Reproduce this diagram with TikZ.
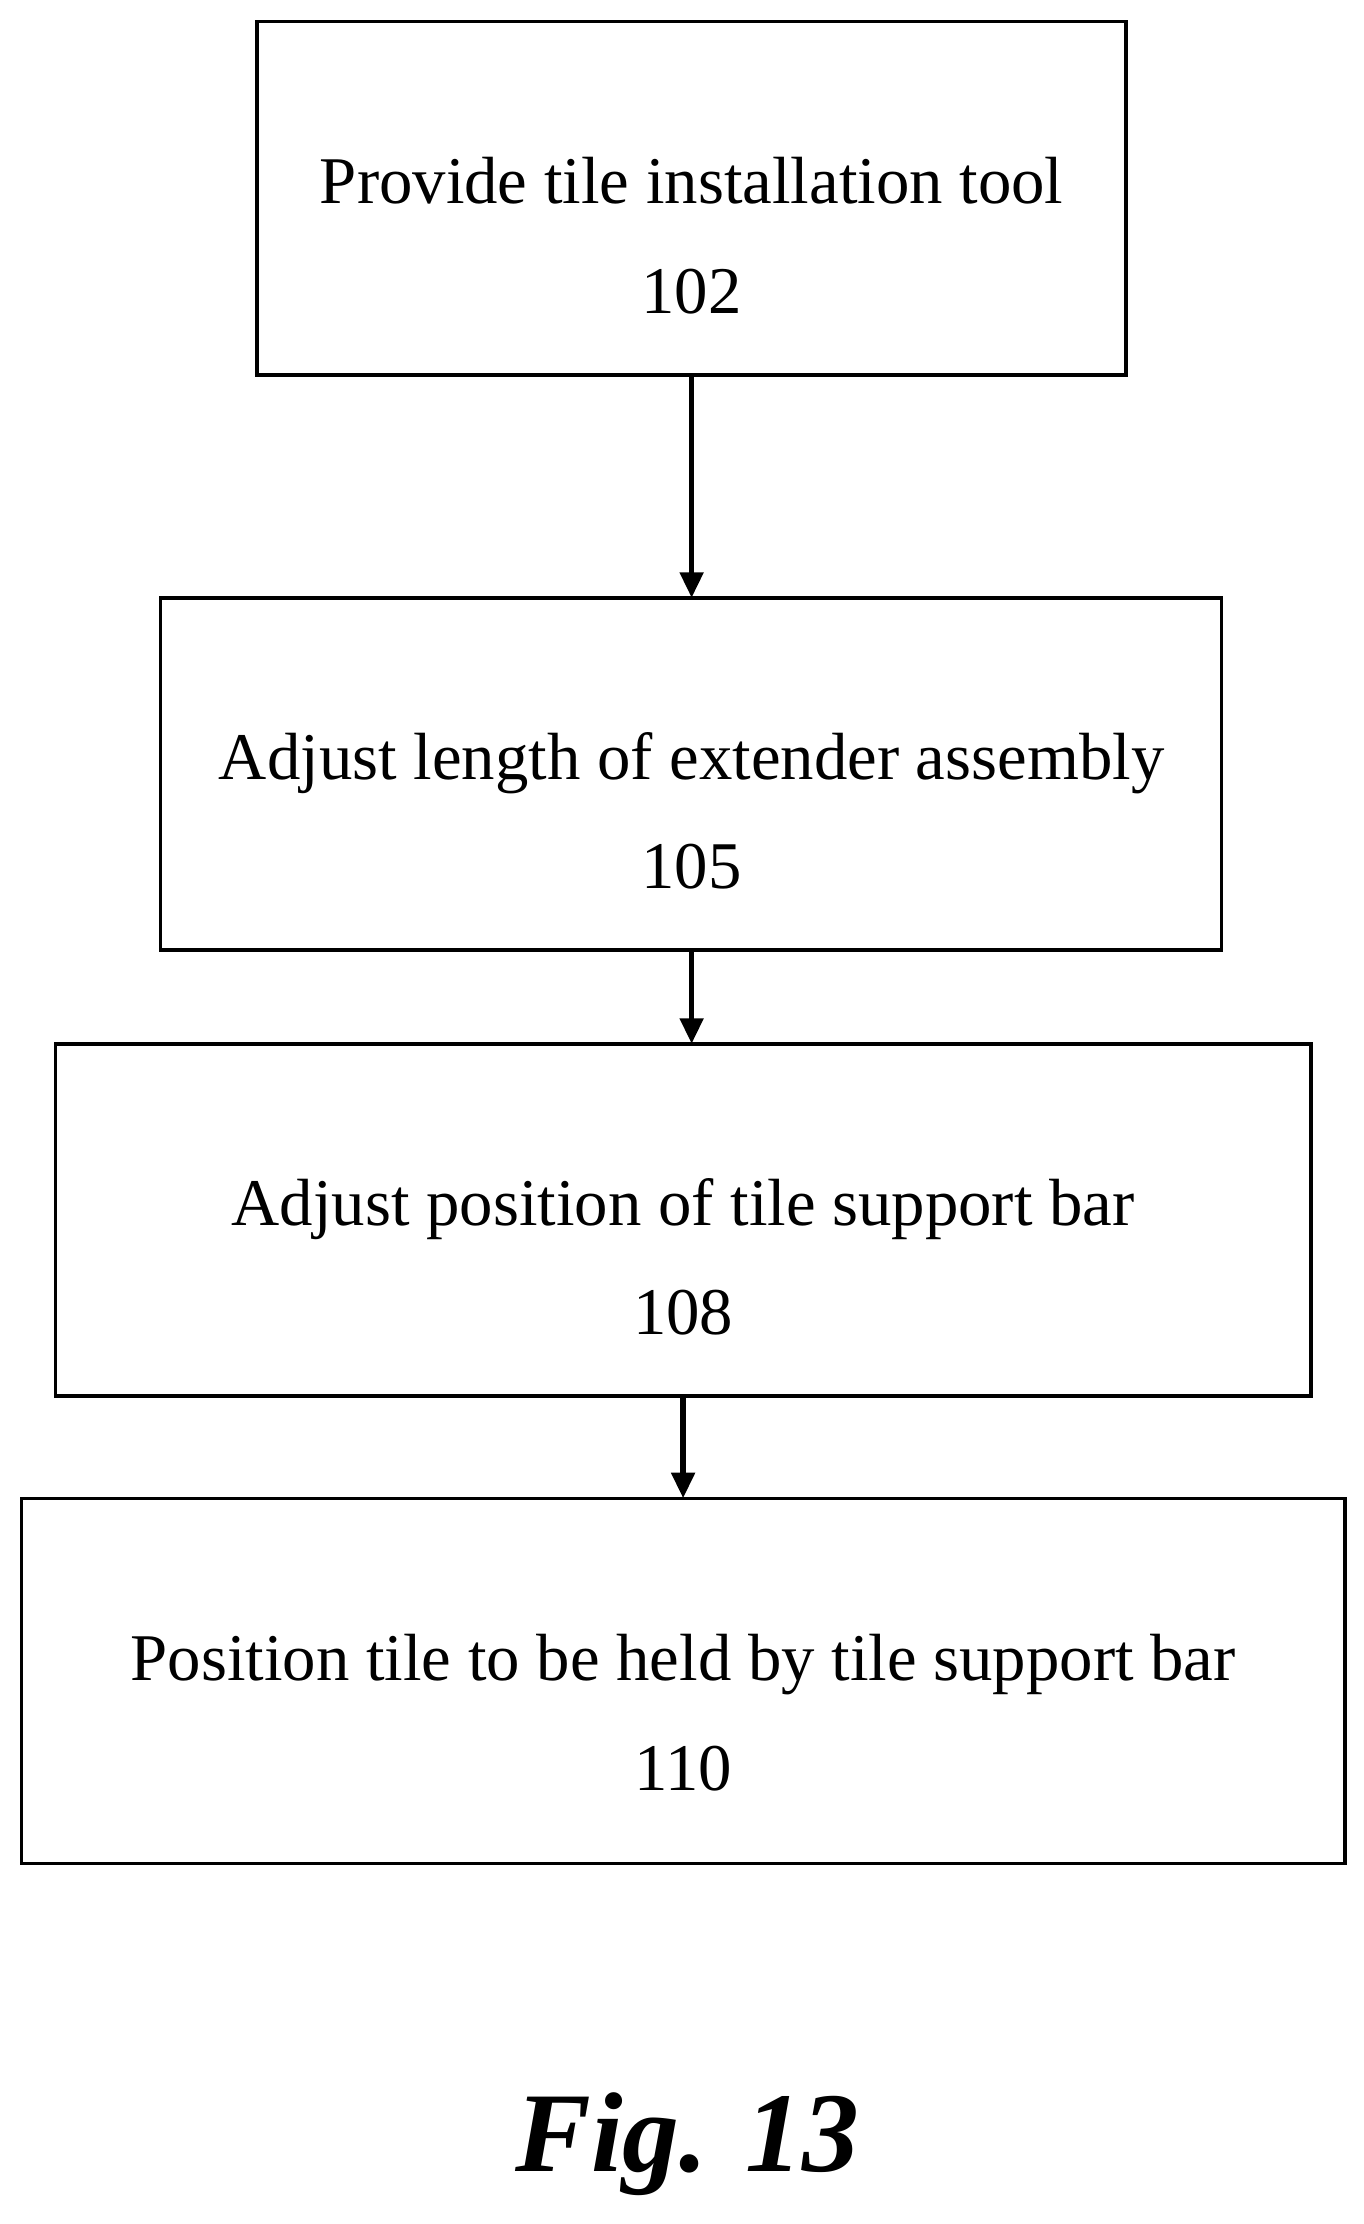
\documentclass[tikz,border=0pt]{standalone}
\usepackage{fontspec}
\setmainfont{Liberation Serif}
\usetikzlibrary{arrows.meta}
\begin{document}
\begin{tikzpicture}[x=1pt,y=-1pt,
  box/.style={draw,line width=2.5pt,inner sep=0pt},
  txt/.style={align=center,font=\fontsize{47}{77}\selectfont},
  arr/.style={line width=4pt,-{Triangle[length=18pt,width=16pt]}}]
\useasboundingbox[fill=white] (0,0) rectangle (960,1566);
\draw[box] (181,15) rectangle (793,264);
\draw[box] (113,421) rectangle (860,669);
\draw[box] (39,735) rectangle (923,983);
\draw[box] (15,1055) rectangle (947,1312);
\node[txt] (t1) at (487,166) {Provide tile installation tool\\102};
\node[txt] (t2) at (487,571) {Adjust length of extender assembly\\105};
\node[txt] (t3) at (481,885) {Adjust position of tile support bar\\108};
\node[txt] (t4) at (481,1206) {Position tile to be held by tile support bar\\110};
\coordinate (a1) at (487,264); \coordinate (b1) at (487,421);
\coordinate (a2) at (487,669); \coordinate (b2) at (487,735);
\coordinate (a3) at (481,983); \coordinate (b3) at (481,1055);
\draw[arr] (a1) -- (b1);
\draw[arr] (a2) -- (b2);
\draw[arr] (a3) -- (b3);
\node[font=\fontsize{80}{88}\selectfont\bfseries\itshape] (fig) at (484,1510) {Fig. 13};
\end{tikzpicture}
\end{document}
